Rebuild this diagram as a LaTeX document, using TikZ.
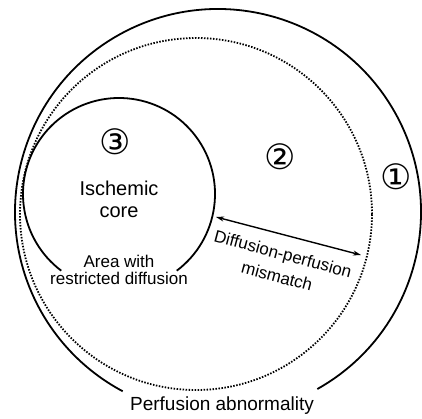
\documentclass[tikz,border=0pt]{standalone}
\usepackage{fontspec}
\setmainfont{Liberation Sans}
\newfontfamily\symfont{DejaVu Sans}
\usetikzlibrary{arrows.meta}

\begin{document}
\begin{tikzpicture}[
        x=1pt, y=1pt,
        % Stili delle linee e dei testi
        bordo/.style={line width=1.8pt},
        bordo_punti/.style={line width=1.8pt, dash pattern=on 1.5pt off 1.5pt},
        freccia/.style={line width=1.4pt, {Stealth[length=8pt,width=5pt]}-{Stealth[length=8pt,width=5pt]}},
        testo/.style={font=\fontsize{18}{18}\selectfont, align=center, inner sep=0pt},
        cifra/.style={font=\symfont\fontsize{35}{35}\selectfont, inner sep=0pt}
    ]
    \useasboundingbox (0,0) rectangle (422,418);

    % ==============================
    % 1. ANOMALIA DI PERFUSIONE
    % ==============================
    \draw[bordo] (218,206) ++(-60.7:203) arc[start angle=-60.7, end angle=242, radius=203];
    \node[testo, font=\fontsize{19}{19}\selectfont] (perf) at (222,12) {Perfusion abnormality};
    \node[cifra] (uno) at (396,241) {①};

    % ==============================
    % 2. MISMATCH
    % ==============================
    \draw[bordo_punti] (196,204) circle[radius=176];
    \node[cifra] (due) at (280,261) {②};

    % ==============================
    % 3. CORE ISCHEMICO
    % ==============================
    \draw[bordo] (119,224) ++(-53:96) arc[start angle=-53, end angle=233, radius=96];
    \node[cifra] (tre) at (115,276) {③};
    \node[testo, font=\fontsize{20}{22}\selectfont] (core) at (119,219) {Ischemic\\core};
    \node[testo, font=\fontsize{17}{17}\selectfont] (area) at (119,148) {Area with\\restricted diffusion};

    % Freccia tra core e bordo punteggiato
    \coordinate (bordo_core) at (216,201);
    \coordinate (bordo_mis) at (361,163);
    \draw[freccia] (bordo_core) -- (bordo_mis);
    \node[testo, font=\fontsize{17}{23}\selectfont, rotate=-15] (mis) at (280,153) {Diffusion-perfusion\\mismatch};
\end{tikzpicture}
\end{document}
